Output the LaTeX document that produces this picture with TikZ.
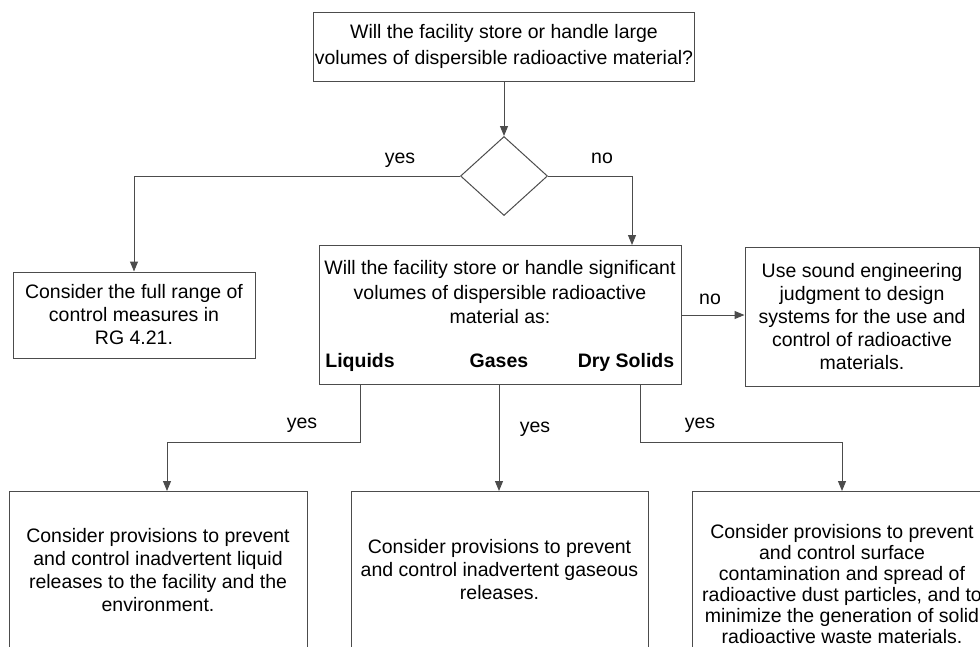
\documentclass[tikz,border=0pt]{standalone}
\usepackage{fontspec}
\setmainfont{Liberation Sans}
\usepackage{tikz}
\usetikzlibrary{arrows.meta,positioning,shapes.geometric}
\tikzset{
    %Define standard arrow tip
    >={Triangle[width=8pt,length=10pt]},
    %Define style for boxes
    boks/.style={
           rectangle,
           draw=black!70, line width=1pt,
           inner sep=1pt,
           font=\fontsize{19.5}{23}\selectfont,
           align=center},
    ruter/.style={
           diamond,
           draw=black!70, line width=1pt,
           minimum width=87pt,
           minimum height=79pt,
           inner sep=0pt},
    art/.style={
           anchor=base,
           font=\fontsize{19.5}{23}\selectfont\bfseries},
    svar/.style={
           inner sep=1pt,
           font=\fontsize{19.5}{23}\selectfont,
           align=center},
    % Define arrow style
    pil/.style={
           ->,
           draw=black!70, line width=1pt}
}
\begin{document}
\begin{tikzpicture}[x=1pt,y=-1pt]
\path[use as bounding box, clip] (0,0) rectangle (980,646);
 %nodes
\node[boks, minimum width=381pt, minimum height=69pt] (top) at (504,46.5) {Will the facility store or handle large\\[3pt]volumes of dispersible radioactive material?};
\node[ruter] (dia) at (504,176) {};
\node[boks, minimum width=242pt, minimum height=86pt] (rg) at (134,315) {Consider the full range of\\control measures in\\RG 4.21.};
\node[boks, minimum width=362pt, minimum height=139pt] (q2) at (500,315) {};
\node[svar] (q2txt) at (500,292.5) {Will the facility store or handle significant\\[1.5pt]volumes of dispersible radioactive\\[1.5pt]material as:};
\node[art] (liq) at (360,367) {Liquids};
\node[art] (gas) at (499,367) {Gases};
\node[art] (dry) at (626,367) {Dry Solids};
\node[boks, minimum width=234pt, minimum height=139pt] (use) at (862,316.5) {Use sound engineering\\judgment to design\\systems for the use and\\control of radioactive\\materials.};
\node[boks, minimum width=298pt, minimum height=157pt, anchor=north] (liqbox) at (158,491) {Consider provisions to prevent\\and control inadvertent liquid\\releases to the facility and the\\environment.};
\node[boks, minimum width=297pt, minimum height=157pt, anchor=north] (gasbox) at (499.5,491) {Consider provisions to prevent\\and control inadvertent gaseous\\releases.};
\node[boks, minimum width=300pt, minimum height=186pt, anchor=north,
      font=\fontsize{19.5}{21}\selectfont] (drybox) at (842,491) {Consider provisions to prevent\\and control surface\\contamination and spread of\\radioactive dust particles, and to\\minimize the generation of solid\\radioactive waste materials.};

 %labels
\node[svar, anchor=base] (ja1) at (400,163) {yes};
\node[svar, anchor=base] (nei1) at (602,163) {no};
\node[svar, anchor=base] (nei2) at (710,304) {no};
\node[svar, anchor=base] (ja2) at (302,428) {yes};
\node[svar, anchor=base] (ja3) at (535,432) {yes};
\node[svar, anchor=base] (ja4) at (700,428) {yes};

\coordinate (noin) at (632,245);
\coordinate (liqout) at (360,384);
\coordinate (liqin) at (167,491);
\coordinate (dryout) at (640,384);

 %connectors
\draw[pil] (top) -- (dia);
\draw[pil] (dia.west) -| (rg.north);
\draw[pil] (dia.east) -| (noin);
\draw[pil] (q2.east) -- (q2.east -| use.west);
\draw[pil] (liqout) -- ++(0,58) -| (liqin);
\draw[pil] (gas |- q2.south) -- (gas |- gasbox.north);
\draw[pil] (dryout) -- ++(0,58) -| (drybox.north);
\end{tikzpicture}
\end{document}
